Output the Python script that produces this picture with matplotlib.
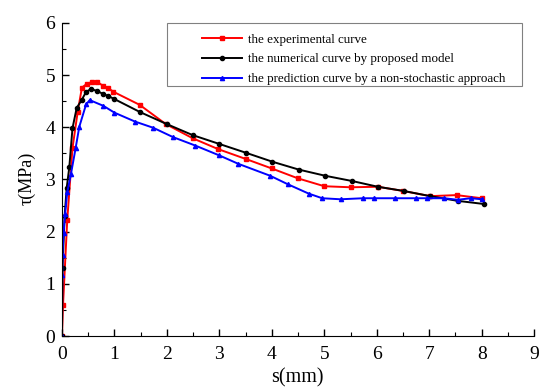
import matplotlib
matplotlib.use("Agg")
import matplotlib.pyplot as plt
from matplotlib.ticker import MultipleLocator
from matplotlib.patches import Rectangle

s_exp = [0, 0.02, 0.1, 0.2, 0.3, 0.38, 0.47, 0.58, 0.67, 0.79, 0.88, 0.98, 1.48, 1.98,
         2.49, 2.98, 3.51, 4.0, 4.5, 5.0, 5.5, 6.02, 6.5, 7.02, 7.52, 8.0]
t_exp = [0, 0.6, 2.22, 3.6, 4.3, 4.76, 4.83, 4.87, 4.87, 4.79, 4.75, 4.68, 4.43, 4.06,
         3.79, 3.58, 3.39, 3.21, 3.02, 2.87, 2.85, 2.86, 2.78, 2.68, 2.70, 2.64]

s_num = [0, 0.01, 0.05, 0.09, 0.14, 0.2, 0.28, 0.38, 0.46, 0.55, 0.66, 0.78, 0.88, 1.0,
         1.49, 2.0, 2.49, 3.0, 3.51, 4.01, 4.51, 5.02, 5.53, 6.02, 6.51, 7.02, 7.54, 8.04]
t_num = [0, 1.3, 2.3, 2.84, 3.24, 3.98, 4.37, 4.53, 4.68, 4.73, 4.70, 4.64, 4.60, 4.54,
         4.29, 4.06, 3.85, 3.68, 3.51, 3.34, 3.19, 3.07, 2.97, 2.86, 2.78, 2.68, 2.59, 2.53]

s_pred = [0, 0.005, 0.01, 0.03, 0.06, 0.1, 0.17, 0.26, 0.33, 0.46, 0.53, 0.79, 1.0, 1.39,
          1.74, 2.12, 2.54, 3.0, 3.36, 3.97, 4.3, 4.7, 4.96, 5.31, 5.74, 5.95, 6.34, 6.74,
          6.96, 7.29, 7.54, 7.79, 8.01]
t_pred = [0, 1.17, 1.55, 1.97, 2.34, 2.75, 3.1, 3.6, 4.01, 4.44, 4.52, 4.41, 4.28, 4.11,
          3.99, 3.81, 3.65, 3.46, 3.30, 3.07, 2.91, 2.73, 2.64, 2.62, 2.64, 2.64, 2.64, 2.64,
          2.64, 2.64, 2.61, 2.64, 2.62]

labels = ["the experimental curve",
          "the numerical curve by proposed model",
          "the prediction curve by a non-stochastic approach"]

plt.rcParams['font.family'] = ['Liberation Serif', 'DejaVu Serif']

fig = plt.figure(figsize=(5.39, 3.88), dpi=100)
ax = fig.add_axes([0.115, 0.134, 0.876, 0.807])

ax.plot(s_exp, t_exp, color='#ff0000', marker='s', markersize=3, lw=1.4, label=labels[0])
ax.plot(s_num, t_num, color='black', marker='o', markersize=3, lw=1.4, label=labels[1])
ax.plot(s_pred, t_pred, color='#0000ff', marker='^', markersize=3, lw=1.4, label=labels[2])

ax.set_xlim(0, 9)
ax.set_ylim(0, 6)
ax.xaxis.set_major_locator(MultipleLocator(1))
ax.xaxis.set_minor_locator(MultipleLocator(0.5))
ax.yaxis.set_major_locator(MultipleLocator(1))
ax.yaxis.set_minor_locator(MultipleLocator(0.5))
ax.tick_params(which='major', direction='in', length=5, width=1, labelsize=14)
ax.tick_params(axis='x', which='major', pad=7)
ax.tick_params(axis='y', which='major', pad=5)
ax.tick_params(which='minor', direction='in', length=3, width=0.8)
for sp in ['top', 'right']:
    ax.spines[sp].set_visible(False)

fig.text(0.551, 0.025, 's(mm)', fontsize=14.5, ha='center', va='center')
fig.text(0.050, 0.539, 'τ(MPa)', fontsize=13, ha='center', va='center', rotation=90)

# legend frame
ax.add_patch(Rectangle((0.2225, 0.799), 0.752, 0.201, transform=ax.transAxes,
                       fill=False, edgecolor='#808080', lw=0.8, clip_on=False, zorder=5))
leg = ax.legend(loc='upper left', bbox_to_anchor=(0.2966, 0.966), fontsize=9.4,
                frameon=False, handlelength=3.07, borderpad=0, labelspacing=0.58,
                handletextpad=0.46, borderaxespad=0)

fig.savefig('out.png', dpi=100)
